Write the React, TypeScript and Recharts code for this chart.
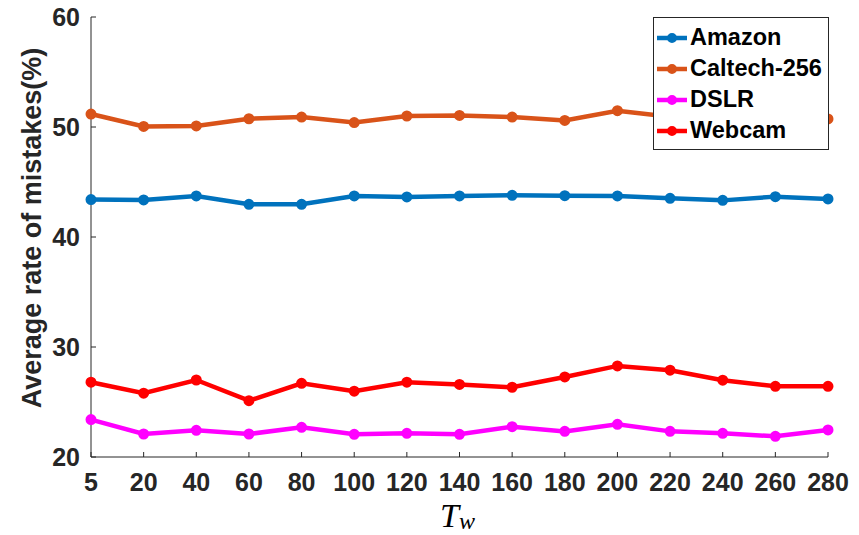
import React from 'react';
import { LineChart, Line, XAxis, YAxis, Legend, Label } from 'recharts';

const categories = ['5', '20', '40', '60', '80', '100', '120', '140', '160', '180', '200', '220', '240', '260', '280'];
const amazon = [43.4, 43.37, 43.73, 42.97, 42.97, 43.73, 43.64, 43.73, 43.79, 43.76, 43.73, 43.52, 43.33, 43.67, 43.46];
const caltech = [51.18, 50.05, 50.1, 50.75, 50.9, 50.4, 51.0, 51.05, 50.9, 50.6, 51.48, 50.93, 51.0, 50.8, 50.73];
const dslr = [23.4, 22.09, 22.43, 22.09, 22.7, 22.06, 22.15, 22.06, 22.76, 22.33, 22.97, 22.33, 22.15, 21.88, 22.46];
const webcam = [26.8, 25.8, 27.0, 25.12, 26.7, 25.98, 26.8, 26.6, 26.34, 27.28, 28.28, 27.89, 26.98, 26.43, 26.43];
const yTicks = [20, 30, 40, 50, 60];

const seriesList = [
  { key: 'amazon', name: 'Amazon', color: '#0072BD' },
  { key: 'caltech', name: 'Caltech-256', color: '#D95319' },
  { key: 'dslr', name: 'DSLR', color: '#FF00FF' },
  { key: 'webcam', name: 'Webcam', color: '#FF0000' },
];

const data = categories.map((c, i) => ({
  x: c,
  amazon: amazon[i],
  caltech: caltech[i],
  dslr: dslr[i],
  webcam: webcam[i],
}));

const AXIS = '#262626';
const SANS = '"Liberation Sans", Arial, Helvetica, sans-serif';

const makeDot = (color: string) => (props: any) => {
  const { cx, cy } = props;
  if (cx == null || cy == null) return <g />;
  return <circle cx={cx} cy={cy} r={4} fill={color} stroke={color} strokeWidth={3} />;
};

const EmptyTick = () => <g />;

const LegendContent = () => (
  <div
    style={{
      width: 174,
      height: 127,
      border: `1px solid ${AXIS}`,
      background: '#fff',
      boxSizing: 'content-box',
      paddingTop: 4,
    }}
  >
    {seriesList.map((s) => (
      <div key={s.key} style={{ height: 31, display: 'flex', alignItems: 'center' }}>
        <svg width={36} height={14} style={{ flex: 'none' }}>
          <line x1={3} y1={7} x2={33} y2={7} stroke={s.color} strokeWidth={4.5} />
          <circle cx={18} cy={7} r={4} fill={s.color} stroke={s.color} strokeWidth={2} />
        </svg>
        <span style={{ fontFamily: SANS, fontWeight: 'bold', fontSize: 23.5, color: '#000', lineHeight: '31px' }}>
          {s.name}
        </span>
      </div>
    ))}
  </div>
);

const XLabel = (props: any) => {
  const vb = props.viewBox || {};
  const cx = vb.x + vb.width / 2;
  return (
    <text x={cx - 2} y={vb.y + 70} textAnchor="middle" fontFamily='"Liberation Serif", "Times New Roman", serif' fontStyle="italic" fill="#000">
      <tspan fontSize={34}>T</tspan>
      <tspan fontSize={24} dy={2}>w</tspan>
    </text>
  );
};

const YLabel = (props: any) => {
  const vb = props.viewBox || {};
  const cy = vb.y + vb.height / 2 - 9;
  const x = 32;
  return (
    <text
      x={x}
      y={cy}
      transform={`rotate(-90, ${x}, ${cy})`}
      textAnchor="middle"
      dominantBaseline="central"
      fontFamily={SANS}
      fontWeight="bold"
      fontSize={27}
      fill={AXIS}
    >
      Average rate of mistakes(%)
    </text>
  );
};

const tickStyle = { fontFamily: SANS, fontWeight: 'bold', fontSize: 25, fill: AXIS };

export default function App() {
  return (
    <div style={{ position: 'absolute', left: 0, top: 0, width: 859, height: 535, background: '#fff' }}>
      <LineChart width={859} height={535} data={data} margin={{ top: 17, right: 31, bottom: 18, left: 31 }}>
        <XAxis
          dataKey="x"
          height={60}
          axisLine={{ stroke: AXIS, strokeWidth: 1 }}
          tickLine={{ stroke: AXIS, strokeWidth: 1 }}
          tickSize={-5}
          tickMargin={21}
          interval={0}
          fontSize={25}
          tick={tickStyle}
        >
          <Label content={XLabel} />
        </XAxis>
        <XAxis
          xAxisId="top"
          dataKey="x"
          orientation="top"
          mirror
          height={0}
          interval={0}
          axisLine={{ stroke: AXIS, strokeWidth: 1 }}
          tickLine={{ stroke: AXIS, strokeWidth: 1 }}
          tickSize={5}
          tick={<EmptyTick />}
        />
        <YAxis
          type="number"
          domain={[20, 60]}
          ticks={yTicks}
          width={60}
          allowDataOverflow
          axisLine={{ stroke: AXIS, strokeWidth: 1 }}
          tickLine={{ stroke: AXIS, strokeWidth: 1 }}
          tickSize={-5}
          tickMargin={16}
          fontSize={25}
          tick={tickStyle}
        >
          <Label content={YLabel} />
        </YAxis>
        <YAxis
          yAxisId="right"
          orientation="right"
          type="number"
          domain={[20, 60]}
          ticks={yTicks}
          width={0}
          mirror
          allowDataOverflow
          axisLine={{ stroke: AXIS, strokeWidth: 1 }}
          tickLine={{ stroke: AXIS, strokeWidth: 1 }}
          tickSize={5}
          tick={<EmptyTick />}
        />
        {seriesList.map((s) => (
          <Line
            key={s.key}
            dataKey={s.key}
            name={s.name}
            stroke={s.color}
            strokeWidth={4.5}
            dot={makeDot(s.color)}
            activeDot={false}
            isAnimationActive={false}
          />
        ))}
        <Legend
          layout="vertical"
          align="center"
          verticalAlign="middle"
          content={LegendContent}
          wrapperStyle={{ top: 17, left: 653, width: 176, height: 132 }}
        />
      </LineChart>
    </div>
  );
}
